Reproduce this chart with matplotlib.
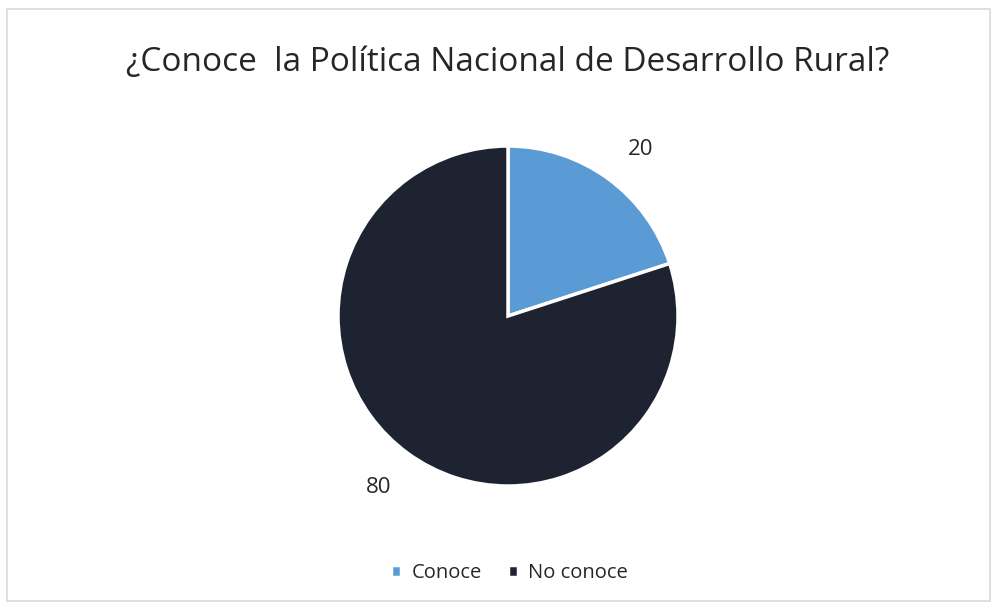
import matplotlib
matplotlib.use('Agg')
import matplotlib.pyplot as plt
from matplotlib.patches import Rectangle

plt.rcParams['font.family'] = ['Open Sans', 'DejaVu Sans']

# datos
categorias = ['Conoce', 'No conoce']
valores = [20, 80]
colores = ['#5b9bd5', '#1d2331']
titulo = '¿Conoce  la Política Nacional de Desarrollo Rural?'


def pie_chart():
    fig = plt.figure(figsize=(9.93, 6.04), dpi=100)
    fig.patches.append(Rectangle((0.007, 0.005), 0.99, 0.98, transform=fig.transFigure,
                                 fill=False, edgecolor='#d9d9d9', linewidth=1.2))

    ax = fig.add_axes([0.5116 - 0.1712, 0.4768 - 0.2815, 0.3424, 0.563])
    wedges, _ = ax.pie(valores, colors=colores, startangle=90, counterclock=False,
                       wedgeprops=dict(edgecolor='white', linewidth=2.5))
    ax.set_xlim(-1, 1)
    ax.set_ylim(-1, 1)
    ax.set_aspect('equal')

    # etiquetas de datos
    ax.text(0.78, 0.98, str(valores[0]), fontsize=16, ha='center', va='center', color='#262626')
    ax.text(-0.76, -1.01, str(valores[1]), fontsize=16, ha='center', va='center', color='#262626')

    fig.text(0.5116, 0.897, titulo, fontsize=24, ha='center', va='center', color='#262626')

    fig.legend(wedges, categorias, loc='center', bbox_to_anchor=(0.513, 0.051), ncol=2,
               frameon=False, fontsize=14.5, handlelength=0.5, handleheight=0.5,
               handletextpad=0.5, columnspacing=1.3, labelcolor='#262626')

    fig.savefig('out.png', dpi=100)


if __name__ == '__main__':
    pie_chart()
